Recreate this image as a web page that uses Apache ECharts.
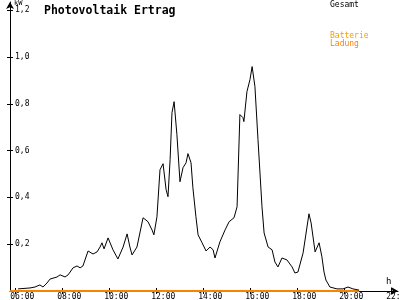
<!DOCTYPE html>
<html><head><meta charset="utf-8">
<script src="https://cdn.jsdelivr.net/npm/echarts@6/dist/echarts.min.js"></script>
<style>html,body{margin:0;padding:0;background:#fff}#c{width:400px;height:300px}</style>
</head><body><div id="c"></div>
<script>
// time of day in hours
var times = [6.13,6.64,6.85,7.06,7.19,7.36,7.49,7.79,7.92,8.13,8.26,8.47,8.64,8.77,8.89,9.11,9.32,9.49,9.62,9.70,9.79,9.96,10.17,10.38,10.60,10.77,10.89,10.98,11.19,11.45,11.66,11.83,11.91,12.04,12.17,12.30,12.43,12.51,12.60,12.68,12.77,12.89,13.02,13.15,13.28,13.36,13.49,13.57,13.70,13.79,13.96,14.13,14.30,14.43,14.51,14.72,14.94,15.11,15.32,15.45,15.57,15.70,15.74,15.87,16.00,16.09,16.21,16.34,16.51,16.60,16.77,16.94,17.06,17.19,17.36,17.57,17.79,17.91,18.04,18.26,18.51,18.60,18.77,18.94,19.06,19.15,19.23,19.40,19.70,19.96,20.17,20.38,20.64];
// Gesamt kW
var gesamt = [0.009,0.013,0.017,0.026,0.017,0.034,0.051,0.060,0.069,0.060,0.069,0.099,0.107,0.099,0.107,0.171,0.158,0.167,0.188,0.206,0.180,0.227,0.176,0.137,0.188,0.244,0.188,0.154,0.188,0.313,0.296,0.261,0.240,0.317,0.518,0.544,0.433,0.403,0.561,0.762,0.809,0.668,0.467,0.527,0.548,0.587,0.548,0.441,0.317,0.240,0.206,0.171,0.188,0.176,0.141,0.210,0.261,0.296,0.313,0.360,0.754,0.741,0.724,0.852,0.904,0.959,0.874,0.647,0.360,0.248,0.188,0.176,0.124,0.103,0.141,0.133,0.103,0.077,0.081,0.163,0.330,0.291,0.167,0.206,0.146,0.081,0.047,0.017,0.009,0.009,0.017,0.009,0.004];
// Batterie Ladung
var ladungTimes = [5.79,20.64];
var ladung = [0,0];
var xTicks = [6,8,10,12,14,16,18,20,22];
var yTicks = [0.2,0.4,0.6,0.8,1.0,1.2];

function hhmm(v){var h=Math.round(v);return '   '+(h<10?'0':'')+h+':00';}
var FONT = 'DejaVu Sans Mono';
var XMIN=5.787, XMAX=22.298, YMAX=1.235;

var chart = echarts.init(document.getElementById('c'), null, {renderer:'canvas'});
chart.setOption({
  animation:false,
  backgroundColor:'#fff',
  title:{text:'Photovoltaik Ertrag',left:39,top:0,textStyle:{fontFamily:FONT,fontSize:11.5,fontWeight:'bold',color:'#000'}},
  grid:{left:10,right:2,top:2,bottom:9,containLabel:false,outerBoundsMode:'none'},
  xAxis:[{
    type:'value',min:XMIN,max:XMAX,
    axisLine:{show:true,lineStyle:{color:'#000',width:1},symbol:['none','arrow'],symbolSize:[6,7]},
    axisTick:{show:true,length:3,customValues:xTicks,lineStyle:{color:'#000'}},
    axisLabel:{show:true,customValues:xTicks,formatter:hhmm,margin:2,fontFamily:FONT,fontSize:8,color:'#000',hideOverlap:false},
    splitLine:{show:false}
  },{
    type:'value',min:XMIN,max:XMAX,position:'bottom',offset:0,
    axisLine:{show:false},
    axisTick:{show:true,inside:true,length:3,customValues:xTicks,lineStyle:{color:'#000'}},
    axisLabel:{show:false},splitLine:{show:false}
  }],
  yAxis:[{
    type:'value',min:0,max:YMAX,
    axisLine:{show:true,lineStyle:{color:'#000',width:1},symbol:['none','arrow'],symbolSize:[6,7]},
    axisTick:{show:true,length:3,customValues:yTicks,lineStyle:{color:'#000'}},
    axisLabel:{show:true,inside:true,margin:5,customValues:yTicks,formatter:function(v){return v.toFixed(1).replace('.',',');},fontFamily:FONT,fontSize:8,color:'#000'},
    splitLine:{show:false}
  },{
    type:'value',min:0,max:YMAX,position:'left',offset:0,
    axisLine:{show:false},
    axisTick:{show:true,inside:true,length:3,customValues:yTicks,lineStyle:{color:'#000'}},
    axisLabel:{show:false},splitLine:{show:false}
  }],
  series:[{
    name:'Gesamt',type:'line',showSymbol:false,
    data:times.map(function(t,i){return [t,gesamt[i]];}),
    lineStyle:{color:'#000',width:1},itemStyle:{color:'#000'},z:3
  },{
    name:'Batterie Ladung',type:'line',showSymbol:false,
    data:ladungTimes.map(function(t,i){return [t,ladung[i]];}),
    lineStyle:{color:'#ff8000',width:2},itemStyle:{color:'#ff8000'},z:2
  }],
  graphic:[
    {type:'text',left:14,top:0,style:{text:'kW',font:'7px '+FONT,fill:'#000'}},
    {type:'text',left:386,top:277,style:{text:'h',font:'9px '+FONT,fill:'#000'}},
    {type:'text',left:330,top:1,style:{text:'Gesamt',font:'8px '+FONT,fill:'#000'}},
    {type:'text',left:330,top:32,style:{text:'Batterie',font:'8px '+FONT,fill:'#f5a000'}},
    {type:'text',left:330,top:40,style:{text:'Ladung',font:'8px '+FONT,fill:'#ff8000'}}
  ]
});
</script></body></html>
